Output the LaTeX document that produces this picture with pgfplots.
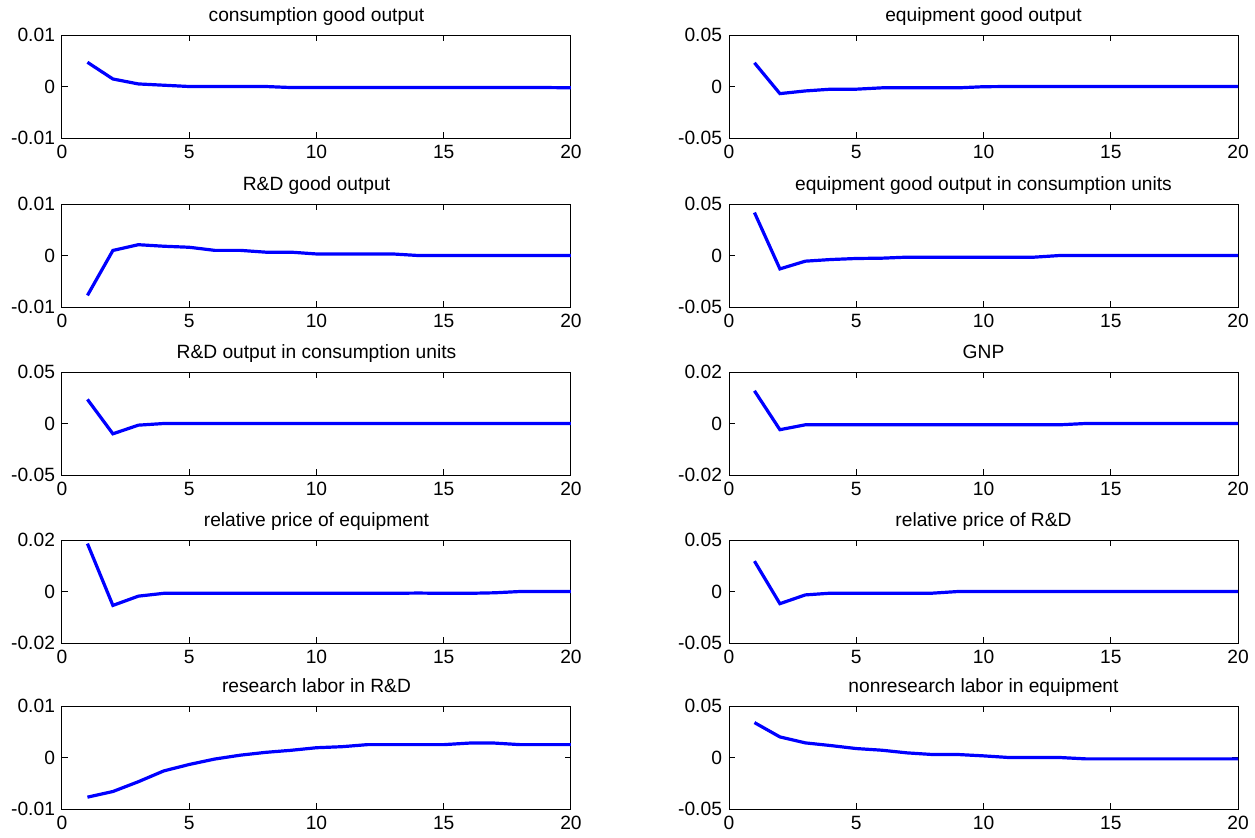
\documentclass[border=0pt]{standalone}
\usepackage{fontspec}
\setmainfont{Liberation Sans}
\usepackage{pgfplots}
\pgfplotsset{compat=1.18}
\definecolor{mblue}{RGB}{0,0,255}
\newcommand{\mf}{\fontsize{9.6}{11}\selectfont}
\pgfplotsset{
  panel/.style={
    scale only axis, width=254.5pt, height=51.5pt, anchor=north west,
    xmin=0, xmax=20, xtick={0,5,10,15,20}, xticklabels={0,5,10,15,20},
    scaled y ticks=false, scaled x ticks=false,
    tick align=inside, tick pos=both, major tick length=3pt,
    axis line style={line width=0.5pt}, every tick/.style={black, line width=0.5pt},
    ticklabel style={font=\mf},
    every axis title/.style={font=\mf, at={(0.5,1)}, anchor=base, yshift=7pt},
    no markers,
    cycle list={{mblue}},
    every axis plot/.append style={line width=1.6pt},
  },
  s01/.style={ymin=-0.01, ymax=0.01, ytick={-0.01,0,0.01}, yticklabels={-0.01,0,0.01}},
  s02/.style={ymin=-0.02, ymax=0.02, ytick={-0.02,0,0.02}, yticklabels={-0.02,0,0.02}},
  s05/.style={ymin=-0.05, ymax=0.05, ytick={-0.05,0,0.05}, yticklabels={-0.05,0,0.05}},
}
\begin{document}
\begin{tikzpicture}
\path[use as bounding box] (0,0) rectangle (627.5pt,-418.5pt);
% Row 1
\begin{axis}[panel, s01, at={(31pt,-17.5pt)}, title={consumption good output}]
\addplot coordinates {(1,0.0047)(2,0.00146)(3,0.0005)(4,0.00025)(5,0)(6,0)(7,0)(8,0)(9,-0.0002)(10,-0.0002)(11,-0.0002)(12,-0.0002)(13,-0.0002)(14,-0.0002)(15,-0.0002)(16,-0.0002)(17,-0.0002)(18,-0.0002)(19,-0.0002)(20,-0.00025)};
\end{axis}
\begin{axis}[panel, s05, at={(364.5pt,-17.5pt)}, title={equipment good output}]
\addplot coordinates {(1,0.023)(2,-0.0069)(3,-0.0043)(4,-0.0026)(5,-0.0026)(6,-0.0013)(7,-0.0013)(8,-0.0013)(9,-0.0013)(10,-0.0002)(11,0)(12,0)(13,0)(14,0)(15,0)(16,0)(17,0)(18,0)(19,0)(20,0)};
\end{axis}
% Row 2
\begin{axis}[panel, s01, at={(31pt,-102pt)}, title={R\&D good output}]
\addplot coordinates {(1,-0.00775)(2,0.00098)(3,0.0021)(4,0.0018)(5,0.0016)(6,0.001)(7,0.001)(8,0.00065)(9,0.00065)(10,0.0003)(11,0.0003)(12,0.0003)(13,0.0003)(14,0)(15,0)(16,0)(17,0)(18,0)(19,0)(20,0)};
\end{axis}
\begin{axis}[panel, s05, at={(364.5pt,-102pt)}, title={equipment good output in consumption units}]
\addplot coordinates {(1,0.0417)(2,-0.013)(3,-0.0055)(4,-0.0039)(5,-0.0029)(6,-0.0026)(7,-0.0016)(8,-0.0016)(9,-0.0016)(10,-0.0016)(11,-0.0016)(12,-0.0016)(13,0)(14,0)(15,0)(16,0)(17,0)(18,0)(19,0)(20,0)};
\end{axis}
% Row 3
\begin{axis}[panel, s05, at={(31pt,-186pt)}, title={R\&D output in consumption units}]
\addplot coordinates {(1,0.0234)(2,-0.01)(3,-0.0016)(4,0)(5,0)(6,0)(7,0)(8,0)(9,0)(10,0)(11,0)(12,0)(13,0)(14,0)(15,0)(16,0)(17,0)(18,0)(19,0)(20,0)};
\end{axis}
\begin{axis}[panel, s02, at={(364.5pt,-186pt)}, title={GNP}]
\addplot coordinates {(1,0.0127)(2,-0.0024)(3,-0.0005)(4,-0.0005)(5,-0.0005)(6,-0.0005)(7,-0.0005)(8,-0.0005)(9,-0.0005)(10,-0.0005)(11,-0.0005)(12,-0.0005)(13,-0.0005)(14,0)(15,0)(16,0)(17,0)(18,0)(19,0)(20,0)};
\end{axis}
% Row 4
\begin{axis}[panel, s02, at={(31pt,-270pt)}, title={relative price of equipment}]
\addplot coordinates {(1,0.0186)(2,-0.0054)(3,-0.0018)(4,-0.0007)(5,-0.0007)(6,-0.0007)(7,-0.0007)(8,-0.0007)(9,-0.0007)(10,-0.0007)(11,-0.0007)(12,-0.0007)(13,-0.0007)(14,-0.0006)(15,-0.0007)(16,-0.0007)(17,-0.0005)(18,0)(19,0)(20,0)};
\end{axis}
\begin{axis}[panel, s05, at={(364.5pt,-270pt)}, title={relative price of R\&D}]
\addplot coordinates {(1,0.0295)(2,-0.0118)(3,-0.0033)(4,-0.0016)(5,-0.0016)(6,-0.0016)(7,-0.0016)(8,-0.0016)(9,0)(10,0)(11,0)(12,0)(13,0)(14,0)(15,0)(16,0)(17,0)(18,0)(19,0)(20,0)};
\end{axis}
% Row 5
\begin{axis}[panel, s01, at={(31pt,-353pt)}, title={research labor in R\&D}]
\addplot coordinates {(1,-0.0077)(2,-0.0066)(3,-0.0047)(4,-0.0026)(5,-0.00135)(6,-0.0003)(7,0.00045)(8,0.001)(9,0.0014)(10,0.0019)(11,0.0021)(12,0.0025)(13,0.0025)(14,0.0025)(15,0.0025)(16,0.0028)(17,0.0028)(18,0.0025)(19,0.0025)(20,0.0025)};
\end{axis}
\begin{axis}[panel, s05, at={(364.5pt,-353pt)}, title={nonresearch labor in equipment}]
\addplot coordinates {(1,0.0339)(2,0.02)(3,0.0142)(4,0.0116)(5,0.0087)(6,0.0071)(7,0.0045)(8,0.0029)(9,0.0029)(10,0.0016)(11,0)(12,0)(13,0)(14,-0.0013)(15,-0.0013)(16,-0.0013)(17,-0.0013)(18,-0.0013)(19,-0.0013)(20,-0.0013)};
\end{axis}
\end{tikzpicture}
\end{document}
